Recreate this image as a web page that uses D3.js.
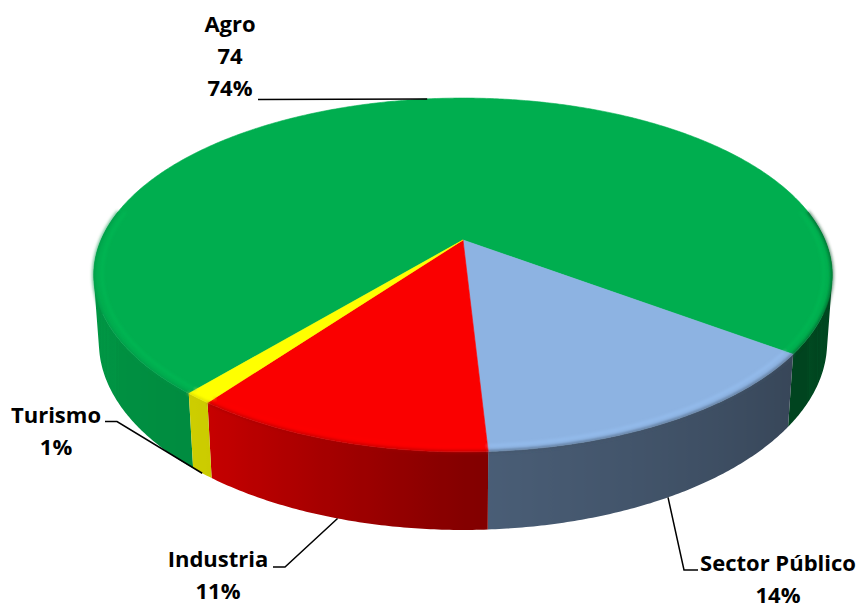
<!DOCTYPE html>
<html>
<head>
<meta charset="utf-8">
<script src="https://cdn.jsdelivr.net/npm/d3@7"></script>
<style>
  body { margin: 0; background: #fff; }
  text { font-family: "Open Sans", sans-serif; font-weight: bold; font-size: 22px; fill: #000; }
</style>
</head>
<body>
<div id="chart"></div>
<script>
// data
var categories = ["Agro", "Sector Público", "Industria", "Turismo"];
var values = [74, 14, 11, 1];
var showValue = [true, false, false, false];
var colors = ["#00AE4F", "#8DB3E2", "#FA0000", "#FFFF00"];

var width = 860, height = 608;

// fake 3d projection of the pie disc
var cx = 463, cy = 240, rx = 362, ry = 170;
var dist = 5.06, depthK = 0.069, wallH = 66.6;

function proj(theta, bottom, r) {
    if (r === undefined) r = 1;
    var u = Math.sin(theta) * r, v = -Math.cos(theta) * r;
    var s = dist / (dist - v + (bottom ? depthK : 0));
    return [cx + rx * u * s, cy + (ry * v + (bottom ? wallH : 0)) * s];
}

var svg = d3.select("#chart")
    .append("svg")
    .attr("width", width)
    .attr("height", height);

var defs = svg.append("defs");
defs.append("filter").attr("id", "soft")
    .attr("x", "-10%").attr("y", "-10%").attr("width", "120%").attr("height", "120%")
    .append("feGaussianBlur").attr("stdDeviation", 1.4);

var data = categories.map(function (c, i) {
    return {name: c, value: values[i], color: colors[i], showValue: showValue[i]};
});
var total = d3.sum(values);
var pct = d3.format(".0%");

var start = -140 * Math.PI / 180;
var pie = d3.pie()
    .sort(null)
    .value(function (d) { return d.value; })
    .startAngle(start)
    .endAngle(start + 2 * Math.PI);
var arcs = pie(data);

// wall shading by angle (degrees from 12 o'clock, clockwise)
var shade = d3.scaleLinear()
    .domain([0, 90, 126, 180, 217, 270, 360])
    .range([0.55, 0.42, 0.39, 0.53, 0.80, 0.87, 0.7])
    .clamp(true);

function shaded(col, theta) {
    var deg = theta * 180 / Math.PI;
    var k = shade(((deg % 360) + 360) % 360);
    var c = d3.rgb(col);
    return d3.rgb(c.r * k, c.g * k, c.b * k).formatHex();
}

var step = 0.5 * Math.PI / 180;
var line = d3.line();

function angles(t0, t1) {
    var n = Math.max(2, Math.ceil((t1 - t0) / step));
    return d3.range(n + 1).map(function (i) { return t0 + (t1 - t0) * i / n; });
}

// front-facing pieces of each slice's wall
var front0 = 80 * Math.PI / 180, front1 = 280 * Math.PI / 180;
var pieces = [];
arcs.forEach(function (a, i) {
    [-2 * Math.PI, 0, 2 * Math.PI].forEach(function (off) {
        var t0 = Math.max(a.startAngle, front0 + off);
        var t1 = Math.min(a.endAngle, front1 + off);
        if (t1 > t0) pieces.push({arc: a, t0: t0, t1: t1, id: "w" + i + "_" + pieces.length});
    });
});

pieces.forEach(function (p) {
    var ts = angles(p.t0, p.t1);
    var top = ts.map(function (t) { return proj(t, false); });
    var bot = ts.map(function (t) { return proj(t, true); });
    var xs = top.map(function (d) { return d[0]; });
    var x1 = d3.min(xs), x2 = d3.max(xs);
    var stops = ts.map(function (t, j) {
        return {o: (xs[j] - x1) / (x2 - x1 || 1), c: shaded(p.arc.data.color, t)};
    }).sort(function (a, b) { return a.o - b.o; });
    var g = defs.append("linearGradient")
        .attr("id", p.id)
        .attr("gradientUnits", "userSpaceOnUse")
        .attr("x1", x1).attr("x2", x2).attr("y1", 0).attr("y2", 0);
    g.selectAll("stop").data(stops).enter().append("stop")
        .attr("offset", function (d) { return d.o; })
        .attr("stop-color", function (d) { return d.c; });
    // union of small quads, all wound the same way
    var d = "";
    for (var j = 0; j < ts.length - 1; j++) {
        var q = [top[j], top[j + 1], bot[j + 1], bot[j]];
        if (d3.polygonArea(q) < 0) q.reverse();
        d += "M" + q.join("L") + "Z";
    }
    p.d = d;
});

svg.append("g").selectAll("path")
    .data(pieces)
    .enter()
    .append("path")
    .attr("d", function (p) { return p.d; })
    .attr("fill-rule", "nonzero")
    .attr("fill", function (p) { return "url(#" + p.id + ")"; });

// top faces
function rim(t0, t1, r) {
    return angles(t0, t1).map(function (t) { return proj(t, false, r); });
}

svg.append("g").selectAll("path")
    .data(arcs)
    .enter()
    .append("path")
    .attr("d", function (a) {
        return line([[cx, cy]].concat(rim(a.startAngle, a.endAngle))) + "Z";
    })
    .attr("fill", function (a) { return a.data.color; })
    .attr("stroke", function (a) { return a.data.color; })
    .attr("stroke-width", 0.6);

// soft bevel at the front rim
var bevel = svg.append("g").attr("filter", "url(#soft)");
pieces.forEach(function (p) {
    bevel.append("path")
        .attr("d", line(rim(p.t0, p.t1, 1.0)))
        .attr("fill", "none")
        .attr("stroke", shaded(p.arc.data.color, (p.t0 + p.t1) / 2))
        .attr("stroke-opacity", 0.6)
        .attr("stroke-width", 3);
    bevel.append("path")
        .attr("d", line(rim(p.t0, p.t1, 0.978)))
        .attr("fill", "none")
        .attr("stroke", d3.rgb(p.arc.data.color).brighter(0.25))
        .attr("stroke-opacity", 0.7)
        .attr("stroke-width", 2);
});

// labels and leader lines
var labelPos = [
    {x: 230, y: 32, lead: [[258, 99.5]], top: true},
    {x: 778, y: 571, lead: [[698, 570], [684, 570]], top: false},
    {x: 218, y: 567, lead: [[273, 567], [285, 567]], top: false},
    {x: 56, y: 423, lead: [[105, 421.5], [117, 421.5]], top: false}
];

arcs.forEach(function (a, i) {
    var lp = labelPos[i];
    var mid = (a.startAngle + a.endAngle) / 2;
    var end = proj(mid, !lp.top);
    svg.append("path")
        .attr("d", line(lp.lead.concat([end])))
        .attr("fill", "none")
        .attr("stroke", "#000")
        .attr("stroke-width", 1.5);

    var lines = [a.data.name];
    if (a.data.showValue) lines.push(a.data.value);
    lines.push(pct(a.data.value / total));
    var t = svg.append("text")
        .attr("x", lp.x)
        .attr("y", lp.y)
        .attr("text-anchor", "middle");
    t.selectAll("tspan")
        .data(lines)
        .enter()
        .append("tspan")
        .attr("x", lp.x)
        .attr("dy", function (d, j) { return j === 0 ? 0 : 32; })
        .text(function (d) { return d; });
});
</script>
</body>
</html>
